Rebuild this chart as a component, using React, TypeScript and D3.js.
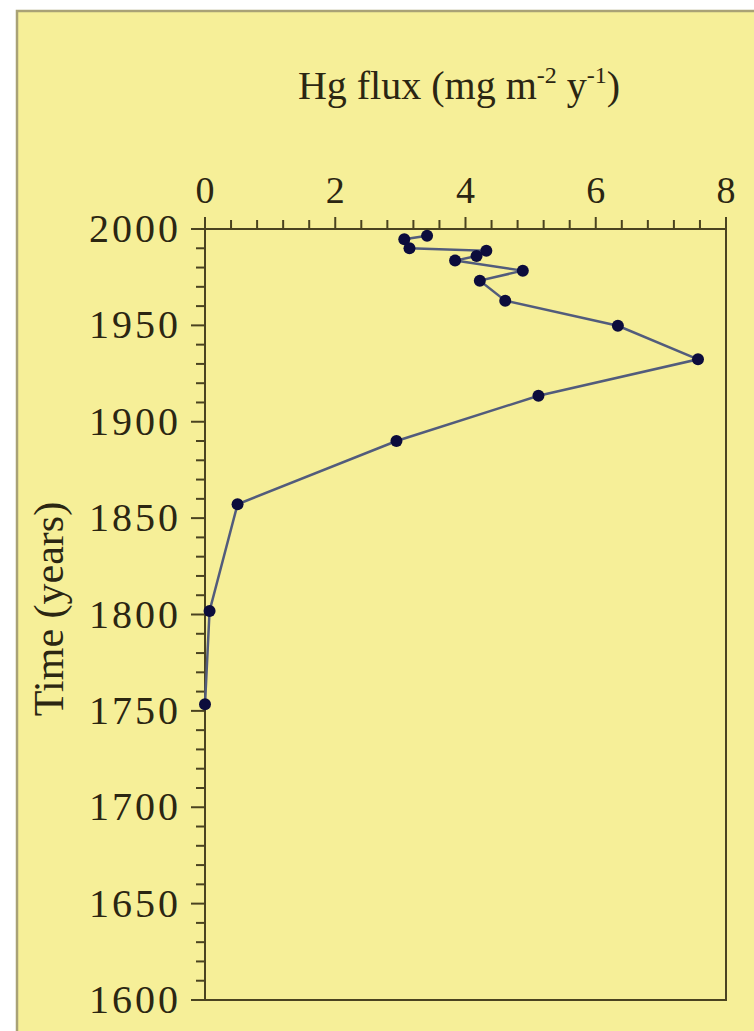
import React, { useEffect, useRef } from "react";
import * as d3 from "d3";

// Hg flux profile (year, mg m-2 y-1)
const years = [
  1996.5, 1994.7, 1990.0, 1988.7, 1986.0, 1983.6, 1978.4, 1973.2, 1962.8,
  1949.8, 1932.4, 1913.5, 1890.0, 1857.2, 1801.8, 1753.4,
];
const flux = [
  3.41, 3.06, 3.14, 4.32, 4.17, 3.84, 4.88, 4.22, 4.61, 6.34, 7.57, 5.12, 2.94,
  0.5, 0.07, 0.0,
];

const xTickLabels = [0, 2, 4, 6, 8];
const yTickLabels = [2000, 1950, 1900, 1850, 1800, 1750, 1700, 1650, 1600];

const App = () => {
  const svgRef = useRef<SVGSVGElement>(null);

  useEffect(() => {
    if (!svgRef.current) return;

    const width = 754;
    const height = 1031;
    const plot = { left: 205, right: 726, top: 229, bottom: 1000 };
    const font = '"Liberation Serif", "Times New Roman", serif';
    const ink = "#2b2612";
    const axisColor = "#4a4320";

    const svg = d3
      .select(svgRef.current)
      .attr("width", width)
      .attr("height", height);

    svg.selectAll("*").remove();

    // page + yellow panel with its frame
    svg
      .append("rect")
      .attr("width", width)
      .attr("height", height)
      .attr("fill", "#ffffff");
    svg
      .append("rect")
      .attr("x", 17)
      .attr("y", 11)
      .attr("width", width + 20)
      .attr("height", height + 20)
      .attr("fill", "#f6ef98")
      .attr("stroke", "#a9a276")
      .attr("stroke-width", 2.5);

    const data = years.map((y, i) => ({ year: y, value: flux[i] }));

    const x = d3.scaleLinear().domain([0, 8]).range([plot.left, plot.right]);
    const y = d3.scaleLinear().domain([1600, 2000]).range([plot.bottom, plot.top]);

    // plot frame (top axis, left axis, right and bottom lines)
    svg
      .append("rect")
      .attr("x", plot.left)
      .attr("y", plot.top)
      .attr("width", plot.right - plot.left)
      .attr("height", plot.bottom - plot.top)
      .attr("fill", "none")
      .attr("stroke", axisColor)
      .attr("stroke-width", 2);

    // top x axis ticks (pointing up)
    const xMinor = d3.range(0, 8.001, 0.4);
    svg
      .append("g")
      .selectAll("line")
      .data(xMinor)
      .enter()
      .append("line")
      .attr("x1", (d) => x(d))
      .attr("x2", (d) => x(d))
      .attr("y1", plot.top)
      .attr("y2", (d) =>
        xTickLabels.some((t) => Math.abs(t - d) < 1e-6) ? plot.top - 12 : plot.top - 9
      )
      .attr("stroke", axisColor)
      .attr("stroke-width", 2);

    svg
      .append("g")
      .selectAll("text")
      .data(xTickLabels)
      .enter()
      .append("text")
      .attr("x", (d) => x(d))
      .attr("y", 203)
      .attr("text-anchor", "middle")
      .style("font-family", font)
      .style("font-size", "38px")
      .style("fill", ink)
      .text((d) => d);

    // left y axis ticks (pointing left)
    const yMinor = d3.range(1600, 2000.001, 10);
    svg
      .append("g")
      .selectAll("line")
      .data(yMinor)
      .enter()
      .append("line")
      .attr("x1", plot.left)
      .attr("x2", (d) => (d % 50 === 0 ? plot.left - 14 : plot.left - 9))
      .attr("y1", (d) => y(d))
      .attr("y2", (d) => y(d))
      .attr("stroke", axisColor)
      .attr("stroke-width", 2);

    svg
      .append("g")
      .selectAll("text")
      .data(yTickLabels)
      .enter()
      .append("text")
      .attr("x", 181)
      .attr("y", (d) => y(d) + 13)
      .attr("text-anchor", "end")
      .style("font-family", font)
      .style("font-size", "40px")
      .style("letter-spacing", "3px")
      .style("fill", ink)
      .text((d) => d);

    // the profile
    const line = d3
      .line<{ year: number; value: number }>()
      .x((d) => x(d.value))
      .y((d) => y(d.year));

    svg
      .append("path")
      .datum(data)
      .attr("fill", "none")
      .attr("stroke", "#525c7c")
      .attr("stroke-width", 2.5)
      .attr("d", line);

    svg
      .append("g")
      .selectAll("circle")
      .data(data)
      .enter()
      .append("circle")
      .attr("cx", (d) => x(d.value))
      .attr("cy", (d) => y(d.year))
      .attr("r", 6)
      .attr("fill", "#0c0c3c");

    // title with superscripts
    const title = svg
      .append("text")
      .attr("x", 459)
      .attr("y", 99)
      .attr("text-anchor", "middle")
      .style("font-family", font)
      .style("font-size", "40px")
      .style("fill", ink);
    title.append("tspan").text("Hg flux (mg m");
    title
      .append("tspan")
      .attr("dy", -16)
      .style("font-size", "24px")
      .text("-2");
    title.append("tspan").attr("dy", 16).text(" y");
    title
      .append("tspan")
      .attr("dy", -16)
      .style("font-size", "24px")
      .text("-1");
    title.append("tspan").attr("dy", 16).text(")");

    // y axis label
    svg
      .append("text")
      .attr("transform", "translate(63,609) rotate(-90)")
      .attr("text-anchor", "middle")
      .style("font-family", font)
      .style("font-size", "42px")
      .style("fill", ink)
      .text("Time (years)");
  }, []);

  return (
    <div style={{ position: "absolute", left: 0, top: 0 }}>
      <svg ref={svgRef} style={{ display: "block" }}></svg>
    </div>
  );
};

export default App;
